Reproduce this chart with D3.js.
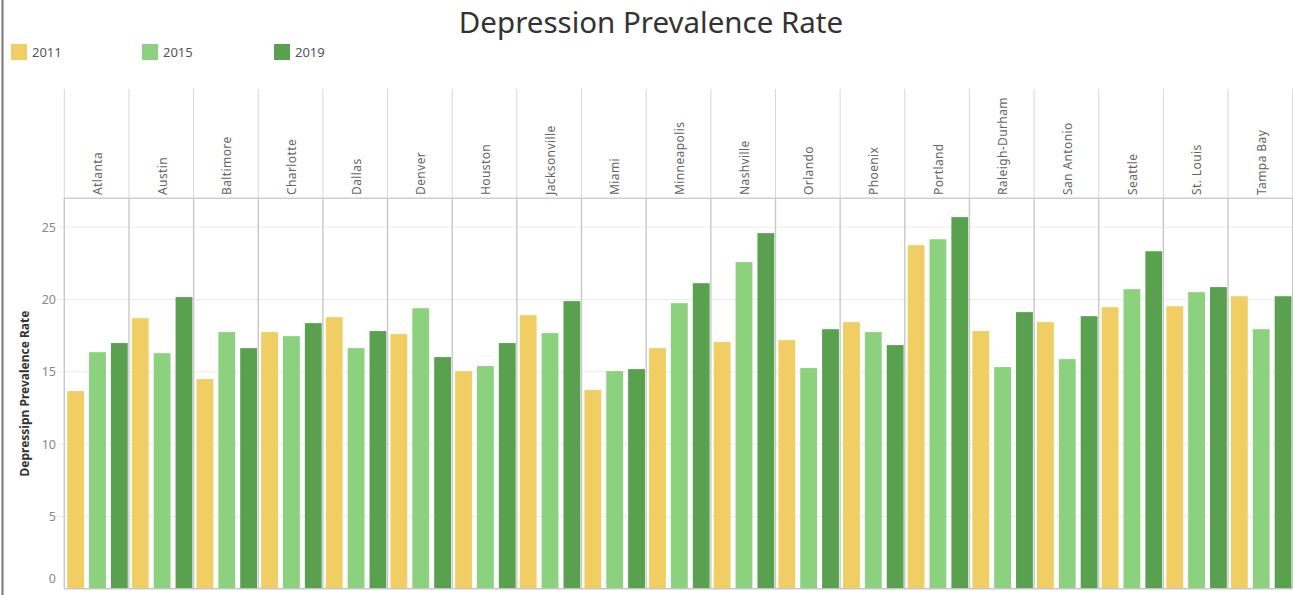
<!DOCTYPE html>
<html><head><meta charset="utf-8">
<script src="https://cdn.jsdelivr.net/npm/d3@7"></script>
<style>body{margin:0;background:#fff;} svg{display:block;font-family:"Noto Sans",sans-serif;}</style>
</head><body><svg id="c" width="1293" height="595"></svg>
<script>
const cities = ["Atlanta","Austin","Baltimore","Charlotte","Dallas","Denver","Houston","Jacksonville","Miami","Minneapolis","Nashville","Orlando","Phoenix","Portland","Raleigh-Durham","San Antonio","Seattle","St. Louis","Tampa Bay"];
const years = ["2011","2015","2019"];
const v2011 = [13.67,18.71,14.50,17.75,18.78,17.61,15.05,18.92,13.74,16.64,17.06,17.19,18.44,23.76,17.82,18.44,19.47,19.54,20.23];
const v2015 = [16.36,16.29,17.75,17.47,16.64,19.40,15.40,17.68,15.05,19.75,22.59,15.26,17.75,24.17,15.33,15.88,20.72,20.51,17.95];
const v2019 = [16.99,20.17,16.64,18.37,17.82,16.02,16.99,19.89,15.19,21.13,24.59,17.95,16.85,25.70,19.13,18.85,23.34,20.86,20.23];
const yTicks = [0,5,10,15,20,25];
const colors = ["#F1CE63","#8CD17D","#59A14F"];

const series = [v2011, v2015, v2019];
const data = cities.map((c, i) => ({city: c, vals: years.map((yr, k) => ({year: yr, v: series[k][i]}))}));

const svg = d3.select("#c");
const pLeft = 64.3, pRight = 1292.7, pTop = 198.3, pBottom = 588.8, headTop = 89;

const x = d3.scaleBand().domain(cities).range([pLeft, pRight]).padding(0);
const xi = d3.scaleBand().domain(years).range([1.6, x.bandwidth() + 0.1]).paddingInner(0.23).paddingOuter(0.06);
const y = d3.scaleLinear().domain([0, 27]).range([pBottom, pTop]);
const color = d3.scaleOrdinal().domain(years).range(colors);

// left border
svg.append("line").attr("x1", 2.5).attr("x2", 2.5).attr("y1", 0).attr("y2", 595)
  .attr("stroke", "#777").attr("stroke-width", 2);

// title
svg.append("text").attr("x", 651).attr("y", 33).attr("text-anchor", "middle")
  .attr("font-size", 29.5).attr("fill", "#333").text("Depression Prevalence Rate");

// legend
const lg = svg.append("g").selectAll("g").data(years).join("g")
  .attr("transform", (d, i) => `translate(${[11, 142, 274][i]},44)`);
lg.append("rect").attr("width", 16).attr("height", 16).attr("fill", d => color(d));
lg.append("text").attr("x", 21).attr("y", 13).attr("font-size", 13).attr("fill", "#555").text(d => d);

// gridlines
svg.append("g").selectAll("line").data(yTicks.filter(t => t > 0)).join("line")
  .attr("x1", 58).attr("x2", pRight).attr("y1", d => y(d)).attr("y2", d => y(d))
  .attr("stroke", "#ececec").attr("stroke-width", 1);

// y axis labels
const yAxis = d3.axisLeft(y).tickValues(yTicks).tickSize(0).tickPadding(0);
const ya = svg.append("g").attr("transform", `translate(56,0)`).call(yAxis);
ya.select(".domain").remove();
ya.selectAll("text").attr("font-size", 12.5).attr("fill", "#888").attr("font-family", "Noto Sans")
  .attr("dy", d => d === 0 ? "-0.35em" : "0.32em")
  .attr("transform", d => d === 0 ? "translate(0,-1.5)" : null);

// axis title
svg.append("text").attr("transform", `translate(29,${(pTop + pBottom) / 2}) rotate(-90)`)
  .attr("text-anchor", "middle").attr("font-size", 12).attr("font-weight", "bold").attr("fill", "#333")
  .text("Depressipn Prevalence Rate");

// bars
const cg = svg.append("g").selectAll("g").data(data).join("g")
  .attr("transform", d => `translate(${x(d.city)},0)`);
cg.selectAll("rect").data(d => d.vals).join("rect")
  .attr("x", d => xi(d.year)).attr("width", xi.bandwidth())
  .attr("y", d => y(d.v)).attr("height", d => y(0) - y(d.v))
  .attr("fill", d => color(d.year));

// column dividers
const bounds = cities.map(c => x(c)).concat([pRight]);
svg.append("g").selectAll("line").data(bounds).join("line")
  .attr("x1", d => d).attr("x2", d => d).attr("y1", headTop).attr("y2", pTop)
  .attr("stroke", "#d6d6d6").attr("stroke-width", 1);
svg.append("g").selectAll("line").data(bounds).join("line")
  .attr("x1", d => d).attr("x2", d => d).attr("y1", pTop).attr("y2", pBottom)
  .attr("stroke", "#c8c8c8").attr("stroke-width", 1.4);

// header bottom & bottom axis line
svg.append("line").attr("x1", pLeft).attr("x2", pRight).attr("y1", pTop).attr("y2", pTop)
  .attr("stroke", "#cfcfcf").attr("stroke-width", 1.5);
svg.append("line").attr("x1", pLeft).attr("x2", pRight).attr("y1", pBottom).attr("y2", pBottom)
  .attr("stroke", "#c8c8c8").attr("stroke-width", 1.5);

// header labels
svg.append("g").selectAll("text").data(cities).join("text")
  .attr("transform", d => `translate(${x(d) + x.bandwidth() / 2 + 5.5},195) rotate(-90)`)
  .attr("font-size", 12).attr("fill", "#666").attr("letter-spacing", 0.4).text(d => d);
</script></body></html>
